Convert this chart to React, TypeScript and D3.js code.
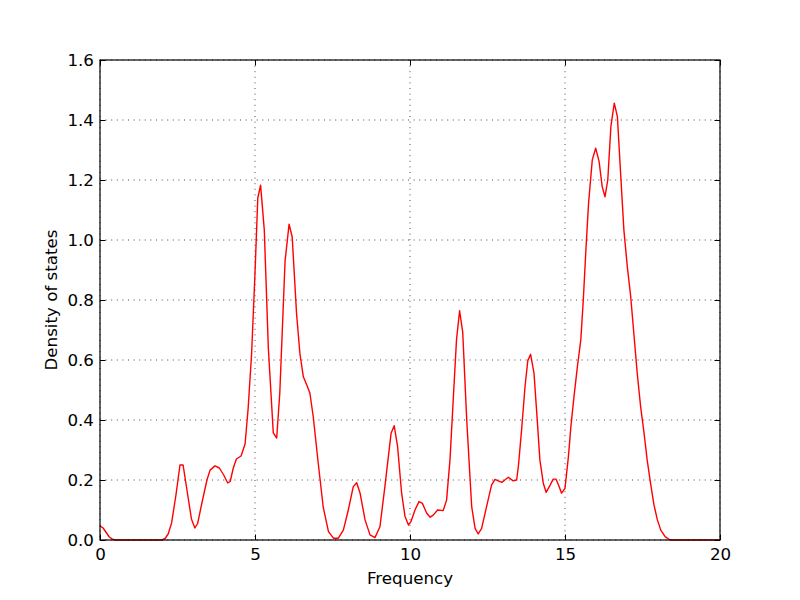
import React, { useEffect, useRef } from 'react'
import * as d3 from 'd3'

// frequency samples
const freq = [
  0, 0.1, 0.2, 0.3, 0.4, 0.5, 2.0, 2.1, 2.2, 2.31, 2.45, 2.58, 2.68, 2.8, 2.95, 3.06, 3.15, 3.3, 3.45, 3.55,
  3.71, 3.85, 4.0, 4.12, 4.2, 4.3, 4.4, 4.55, 4.68, 4.78, 4.89, 5.0, 5.09, 5.18, 5.3, 5.43, 5.59, 5.7, 5.8,
  5.97, 6.1, 6.2, 6.34, 6.45, 6.56, 6.67, 6.77, 6.88, 7.04, 7.2, 7.37, 7.53, 7.69, 7.85, 8.01, 8.17, 8.28,
  8.39, 8.55, 8.71, 8.87, 9.03, 9.19, 9.39, 9.49, 9.6, 9.73, 9.84, 9.95, 10.03, 10.16, 10.29, 10.4, 10.54,
  10.65, 10.75, 10.89, 11.07, 11.18, 11.29, 11.4, 11.5, 11.6, 11.7, 11.83, 11.99, 12.1, 12.2, 12.31, 12.47,
  12.63, 12.74, 12.85, 12.96, 13.06, 13.17, 13.33, 13.44, 13.5, 13.6, 13.71, 13.8, 13.89, 14.0, 14.09,
  14.19, 14.3, 14.39, 14.52, 14.62, 14.71, 14.81, 14.89, 15.0, 15.11, 15.19, 15.29, 15.4, 15.51, 15.59,
  15.68, 15.76, 15.88, 15.99, 16.1, 16.2, 16.29, 16.38, 16.48, 16.59, 16.69, 16.8, 16.9, 17.01, 17.12,
  17.22, 17.33, 17.44, 17.55, 17.65, 17.76, 17.87, 17.98, 18.09, 18.23, 18.39, 20,
]

// density of states at each frequency
const dos = [
  0.047, 0.04, 0.025, 0.01, 0.003, 0, 0, 0.005, 0.02, 0.057, 0.15, 0.25, 0.25, 0.17, 0.07, 0.04, 0.055, 0.13,
  0.2, 0.233, 0.247, 0.24, 0.215, 0.19, 0.195, 0.24, 0.27, 0.28, 0.32, 0.44, 0.62, 0.89, 1.14, 1.183, 1.033,
  0.64, 0.357, 0.34, 0.49, 0.93, 1.053, 1.01, 0.755, 0.62, 0.544, 0.517, 0.49, 0.41, 0.256, 0.11, 0.028,
  0.006, 0.006, 0.033, 0.1, 0.178, 0.191, 0.156, 0.067, 0.017, 0.008, 0.044, 0.178, 0.356, 0.381, 0.311,
  0.156, 0.078, 0.05, 0.061, 0.1, 0.128, 0.122, 0.089, 0.076, 0.083, 0.1, 0.098, 0.133, 0.267, 0.478, 0.667,
  0.764, 0.694, 0.4, 0.111, 0.039, 0.02, 0.039, 0.111, 0.183, 0.202, 0.197, 0.192, 0.2, 0.209, 0.197, 0.2,
  0.25, 0.367, 0.511, 0.598, 0.619, 0.556, 0.422, 0.267, 0.189, 0.159, 0.183, 0.203, 0.203, 0.178, 0.156,
  0.172, 0.278, 0.378, 0.478, 0.578, 0.667, 0.8, 0.978, 1.122, 1.267, 1.306, 1.261, 1.178, 1.144, 1.2,
  1.378, 1.456, 1.411, 1.211, 1.033, 0.911, 0.811, 0.689, 0.556, 0.444, 0.356, 0.267, 0.189, 0.117, 0.067,
  0.033, 0.011, 0, 0,
]

const xTicks = [0, 5, 10, 15, 20]
const yTicks = [0, 0.2, 0.4, 0.6, 0.8, 1.0, 1.2, 1.4, 1.6]

export default function App() {
  const ref = useRef<SVGSVGElement>(null)

  useEffect(() => {
    document.body.style.margin = '0'
    const margin = { top: 60, right: 80, bottom: 60, left: 100 }
    const width = 800 - margin.left - margin.right
    const height = 600 - margin.top - margin.bottom
    const font = 'DejaVu Sans'
    const fs = 16.7

    const svg = d3.select(ref.current)
    svg.selectAll('*').remove()
    const g = svg.append('g').attr('transform', `translate(${margin.left},${margin.top})`)

    const x = d3.scaleLinear().domain([0, 20]).range([0, width])
    const y = d3.scaleLinear().domain([0, 1.6]).range([height, 0])

    // dotted grid
    g.append('g').selectAll('line.gx')
      .data(xTicks).enter().append('line')
      .attr('x1', d => x(d)).attr('x2', d => x(d))
      .attr('y1', 0).attr('y2', height)
      .attr('stroke', '#000').attr('stroke-width', 0.7)
      .attr('stroke-dasharray', '1,4.6')
    g.append('g').selectAll('line.gy')
      .data(yTicks).enter().append('line')
      .attr('y1', d => y(d)).attr('y2', d => y(d))
      .attr('x1', 0).attr('x2', width)
      .attr('stroke', '#000').attr('stroke-width', 0.7)
      .attr('stroke-dasharray', '1,4.6')

    // the curve
    const pts = freq.map((f, i) => [f, dos[i]] as [number, number])
    const line = d3.line<[number, number]>()
      .x(d => x(d[0]))
      .y(d => y(d[1]))
    g.append('path')
      .datum(pts)
      .attr('d', line)
      .attr('fill', 'none')
      .attr('stroke', '#ff0000')
      .attr('stroke-width', 1.4)
      .attr('stroke-linejoin', 'round')

    const styleAxis = (sel: any) => {
      sel.select('.domain').remove()
      sel.selectAll('line').attr('stroke', '#000').attr('stroke-width', 1)
      sel.selectAll('text').attr('font-family', font).attr('font-size', fs).attr('fill', '#000')
    }

    g.append('g')
      .attr('transform', `translate(0,${height})`)
      .call(d3.axisBottom(x).tickValues(xTicks).tickSizeInner(-5.5).tickSizeOuter(0).tickPadding(8).tickFormat(d3.format('d')))
      .call(styleAxis)
    g.append('g')
      .call(d3.axisTop(x).tickValues(xTicks).tickSizeInner(-5.5).tickSizeOuter(0).tickFormat(() => ''))
      .call(styleAxis)
    g.append('g')
      .call(d3.axisLeft(y).tickValues(yTicks).tickSizeInner(-5.5).tickSizeOuter(0).tickPadding(6).tickFormat(d3.format('.1f')))
      .call(styleAxis)
    g.append('g')
      .attr('transform', `translate(${width},0)`)
      .call(d3.axisRight(y).tickValues(yTicks).tickSizeInner(-5.5).tickSizeOuter(0).tickFormat(() => ''))
      .call(styleAxis)

    // frame
    g.append('rect')
      .attr('width', width).attr('height', height)
      .attr('fill', 'none').attr('stroke', '#000').attr('stroke-width', 1.2)

    g.append('text')
      .attr('x', width / 2).attr('y', height + 44)
      .attr('text-anchor', 'middle')
      .attr('font-family', font).attr('font-size', fs)
      .text('Frequency')

    g.append('text')
      .attr('transform', `translate(${-43},${height / 2}) rotate(-90)`)
      .attr('text-anchor', 'middle')
      .attr('font-family', font).attr('font-size', fs)
      .text('Density of states')
  }, [])

  return <svg ref={ref} width={800} height={600} style={{ display: 'block', background: '#fff' }}></svg>
}
